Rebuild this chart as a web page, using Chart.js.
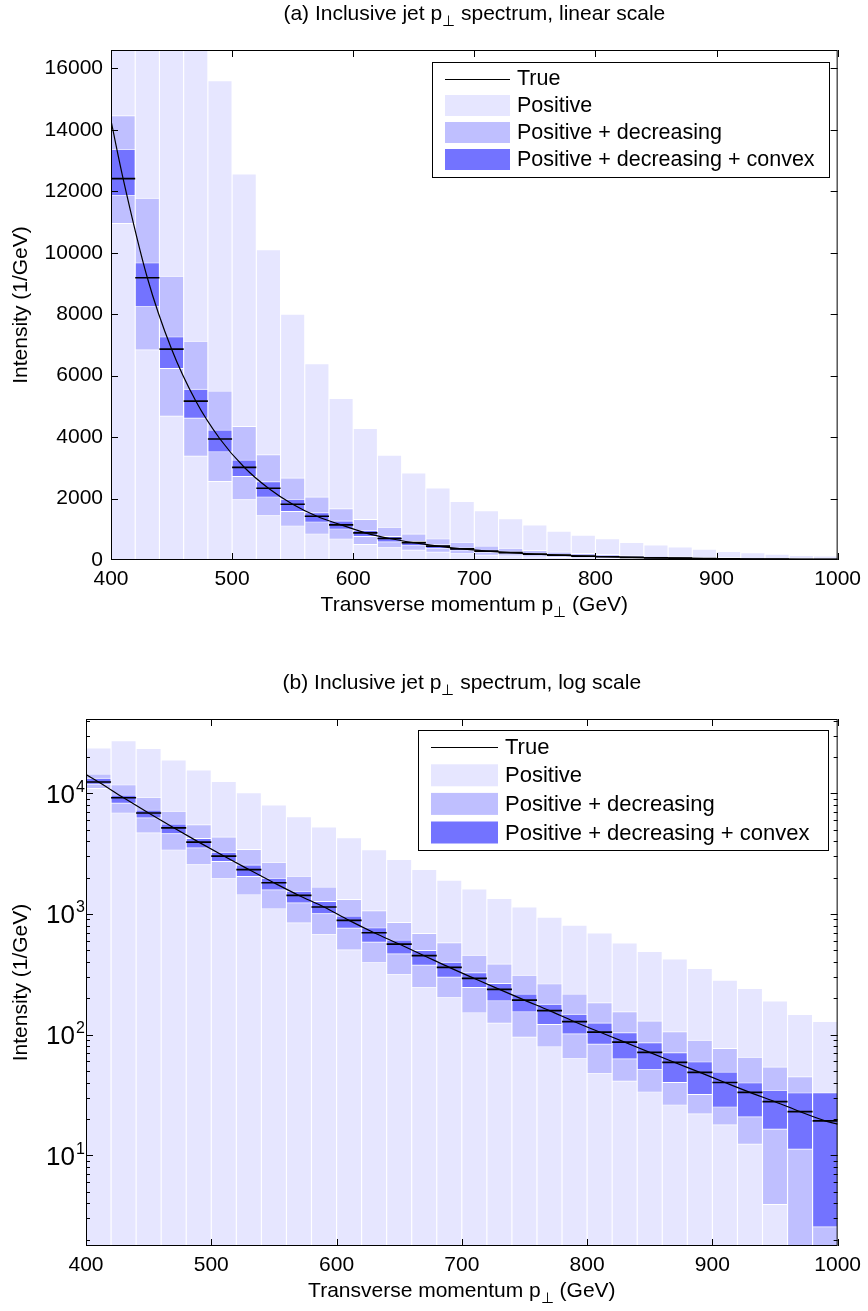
<!DOCTYPE html>
<html>
<head>
<meta charset="utf-8">
<title>Inclusive jet spectrum</title>
<script src="https://cdn.jsdelivr.net/npm/chart.js@4.4.1/dist/chart.umd.min.js"></script>
<style>
  body { margin: 0; background: #fff; }
  .panel { position: absolute; left: 0; width: 868px; }
</style>
</head>
<body>
<div class="panel" style="top:0;height:640px"><canvas id="linChart"></canvas></div>
<div class="panel" style="top:640px;height:671px"><canvas id="logChart"></canvas></div>
<script>
const binCenters = [410, 430, 450, 470, 490, 510, 530, 550, 570, 590, 610, 630, 650, 670, 690,
                    710, 730, 750, 770, 790, 810, 830, 850, 870, 890, 910, 930, 950, 970, 990];

const positiveLo = [0, 0, 0, 0, 0, 0, 0, 0, 0, 0, 0, 0, 0, 0, 0,
                    0, 0, 0, 0, 0, 0, 0, 0, 0, 0, 0, 0, 0, 0, 0];
const positiveHi = [23800, 27300, 23500, 18900, 15600, 12570, 10100, 8000, 6390, 5260, 4280, 3413, 2836, 2344, 1910,
                    1609, 1346, 1142, 942, 809, 695, 574, 490, 423, 354, 283, 241, 190, 147, 128.6];
const decreasingLo = [10950, 6833, 4677, 3375, 2552, 1955, 1435, 1099, 839, 676, 502, 394, 315, 246, 202,
                      151, 124, 95, 79, 63, 47.6, 41, 33.3, 26, 21.9, 17.8, 12.3, 3.9, 0, 0];
const decreasingHi = [14465, 11777, 9240, 7126, 5499, 4351, 3430, 2671, 2053, 1674, 1321, 1065, 851, 690, 578,
                      456, 386, 311, 264, 217, 184, 155, 130, 106, 90, 77, 65, 54, 44.8, 33];
const convexLo = [11863, 8243, 6227, 4611, 3516, 2714, 2042, 1576, 1229, 1002, 760, 582, 465, 375, 298,
                  245, 190, 154, 121, 101, 83, 62.7, 51.4, 40, 31.8, 25, 20.7, 16.4, 11.2, 2.54];
const convexHi = [13360, 9674, 7267, 5563, 4231, 3255, 2552, 1977, 1544, 1273, 961, 769, 608, 499, 399,
                  326, 266, 217, 179, 148, 125, 104, 85.7, 71, 59.6, 49, 39.9, 34.6, 33, 33];
const trueBin = [12416, 9187, 6865, 5174, 3938, 3018, 2335, 1815, 1424, 1142, 885, 699, 563, 451, 361,
                 292, 237, 193, 158, 128, 105, 86.7, 71.2, 58.8, 48.6, 40.1, 33.2, 27.8, 23, 19.3];
// true curve at the two ends of the range
const curveEndX = [400, 1000];
const curveEndY = [14300, 18.1];

const xTicks = [400, 500, 600, 700, 800, 900, 1000];
const linTicks = [0, 2000, 4000, 6000, 8000, 10000, 12000, 14000, 16000];
const logTicks = [10, 100, 1000, 10000];
const logMinorSteps = [2, 3, 4, 5, 6, 7, 8, 9];

const FONT = '"Liberation Sans", Arial, Helvetica, sans-serif';
Chart.defaults.font.family = FONT;
Chart.defaults.color = '#000';

const colPositive = 'rgb(230,230,255)';
const colDecreasing = 'rgb(191,191,255)';
const colConvex = 'rgb(115,115,255)';

function bandSet(label, lo, hi, color, order, floor) {
  return {
    type: 'bar', label: label, order: order,
    data: binCenters.map((x, i) => ({ x: x, y: [Math.max(lo[i], floor), hi[i]] })),
    backgroundColor: color, borderColor: '#fff', borderWidth: 0.9, borderSkipped: false,
    barPercentage: 1, categoryPercentage: 1, grouped: false
  };
}

function halfBin(chart) {
  const s = chart.scales.x;
  return (s.getPixelForValue(binCenters[1]) - s.getPixelForValue(binCenters[0])) / 2;
}

function drawParts(ctx, parts, cx, base, size) {
  const subSize = Math.round(size * 0.72);
  const widths = parts.map(p => {
    ctx.font = (p.sub ? subSize : size) + 'px ' + FONT;
    return ctx.measureText(p.t).width;
  });
  let x = cx - widths.reduce((a, b) => a + b, 0) / 2;
  ctx.textAlign = 'left';
  ctx.textBaseline = 'alphabetic';
  parts.forEach((p, i) => {
    ctx.font = (p.sub ? subSize : size) + 'px ' + FONT;
    ctx.fillText(p.t, x, base + (p.sub ? size * 0.3 : 0));
    x += widths[i];
  });
}

const decor = {
  id: 'decor',
  afterDraw(chart, args, o) {
    const ctx = chart.ctx, a = chart.chartArea, x = chart.scales.x, y = chart.scales.y;
    ctx.save();
    ctx.strokeStyle = '#000';
    ctx.fillStyle = '#000';
    ctx.lineWidth = 1;

    // inner tick marks on all four sides
    ctx.beginPath();
    xTicks.forEach(v => {
      const px = Math.round(x.getPixelForValue(v)) + 0.5;
      ctx.moveTo(px, a.bottom); ctx.lineTo(px, a.bottom - 7);
      ctx.moveTo(px, a.top); ctx.lineTo(px, a.top + 7);
    });
    const yTick = (v, len) => {
      const py = Math.round(y.getPixelForValue(v)) + 0.5;
      if (py < a.top || py > a.bottom) return;
      ctx.moveTo(a.left, py); ctx.lineTo(a.left + len, py);
      ctx.moveTo(a.right, py); ctx.lineTo(a.right - len, py);
    };
    if (o.log) {
      logTicks.forEach(v => yTick(v, 7));
      [1].concat(logTicks).forEach(d => logMinorSteps.forEach(m => yTick(d * m, 4)));
    } else {
      linTicks.forEach(v => yTick(v, 7));
    }
    ctx.stroke();

    ctx.strokeRect(a.left + 0.5, a.top + 0.5, a.right - a.left - 1, a.bottom - a.top - 1);

    // log tick labels 10^k
    if (o.log) {
      logTicks.forEach(v => {
        const py = y.getPixelForValue(v);
        ctx.textBaseline = 'alphabetic';
        ctx.font = '26px ' + FONT;
        ctx.textAlign = 'right';
        ctx.fillText('10', a.left - 11, py + 9.5);
        ctx.font = '16px ' + FONT;
        ctx.textAlign = 'left';
        ctx.fillText(String(Math.round(Math.log10(v))), a.left - 10, py - 1.5);
      });
    }

    const cx = (a.left + a.right) / 2;
    drawParts(ctx, o.title, cx, a.top - 30, 21);
    drawParts(ctx, [{ t: 'Transverse momentum p' }, { t: '\u22A5', sub: true }, { t: ' (GeV)' }], cx, a.bottom + 51, 21);

    ctx.save();
    ctx.translate(21, (a.top + a.bottom) / 2);
    ctx.rotate(-Math.PI / 2);
    ctx.font = '21px ' + FONT;
    ctx.textAlign = 'center';
    ctx.textBaseline = 'middle';
    ctx.fillText('Intensity (1/GeV)', 0, 0);
    ctx.restore();

    // legend
    const L = o.legend;
    ctx.fillStyle = '#fff';
    ctx.fillRect(L.box[0], L.box[1], L.box[2] - L.box[0], L.box[3] - L.box[1]);
    ctx.strokeRect(L.box[0] + 0.5, L.box[1] + 0.5, L.box[2] - L.box[0], L.box[3] - L.box[1]);
    const ds = chart.data.datasets;
    const items = [ds[0], ds[4], ds[3], ds[2]];
    ctx.font = L.font + 'px ' + FONT;
    ctx.textAlign = 'left';
    ctx.textBaseline = 'middle';
    items.forEach((d, i) => {
      const ry = L.row0 + i * L.step;
      if (d.type === 'line') {
        ctx.beginPath();
        ctx.moveTo(L.sw[0], Math.round(ry) + 0.5);
        ctx.lineTo(L.sw[1], Math.round(ry) + 0.5);
        ctx.stroke();
      } else {
        ctx.fillStyle = d.backgroundColor;
        ctx.fillRect(L.sw[0], ry - L.swH / 2, L.sw[1] - L.sw[0], L.swH);
      }
      ctx.fillStyle = '#000';
      ctx.fillText(d.label, L.textX, ry + 1);
    });
    ctx.restore();
  }
};

function makeChart(id, cfg) {
  const floor = cfg.log ? 1 : 0;
  const curve = [{ x: curveEndX[0], y: curveEndY[0] }]
    .concat(binCenters.map((x, i) => ({ x: x, y: trueBin[i] })))
    .concat([{ x: curveEndX[1], y: curveEndY[1] }]);
  const yScale = cfg.log
    ? { type: 'logarithmic', min: cfg.yMin, max: cfg.yMax,
        grid: { display: false, drawTicks: false }, border: { display: false },
        ticks: { display: false },
        afterFit: s => { s.width = cfg.area.left; } }
    : { type: 'linear', min: cfg.yMin, max: cfg.yMax,
        grid: { display: false, drawTicks: false }, border: { display: false },
        ticks: { font: { size: 21 }, padding: 8, callback: v => String(v) },
        afterBuildTicks: s => { s.ticks = linTicks.map(v => ({ value: v })); },
        afterFit: s => { s.width = cfg.area.left; } };

  return new Chart(document.getElementById(id), {
    type: 'bar',
    data: {
      datasets: [
        { type: 'line', label: 'True', order: 0, data: curve,
          borderColor: '#000', borderWidth: 1.2, pointRadius: 0,
          cubicInterpolationMode: 'monotone', fill: false },
        { type: 'line', label: 'True (bin)', order: 1, showLine: false,
          data: binCenters.map((x, i) => ({ x: x, y: trueBin[i] })),
          pointStyle: 'line', pointRadius: c => halfBin(c.chart),
          pointBorderColor: '#000', pointBorderWidth: 1.7 },
        bandSet('Positive + decreasing + convex', convexLo, convexHi, colConvex, 2, floor),
        bandSet('Positive + decreasing', decreasingLo, decreasingHi, colDecreasing, 3, floor),
        bandSet('Positive', positiveLo, positiveHi, colPositive, 4, floor)
      ]
    },
    options: {
      responsive: true,
      maintainAspectRatio: false,
      animation: false,
      events: [],
      layout: { padding: { left: 0, right: cfg.padRight, top: cfg.area.top, bottom: 0 } },
      plugins: { legend: { display: false }, tooltip: { enabled: false }, decor: cfg },
      scales: {
        x: { type: 'linear', min: 400, max: 1000, offset: false,
             grid: { display: false, drawTicks: false }, border: { display: false },
             ticks: { font: { size: 21 }, padding: 7, maxRotation: 0, autoSkip: false, callback: v => String(v) },
             afterBuildTicks: s => { s.ticks = xTicks.map(v => ({ value: v })); },
             afterFit: s => { s.height = cfg.xHeight; } },
        y: yScale
      }
    },
    plugins: [decor]
  });
}

makeChart('linChart', {
  log: false, yMin: 0, yMax: 16600,
  area: { left: 111, top: 50 }, padRight: 28, xHeight: 80,
  title: [{ t: '(a) Inclusive jet p' }, { t: '\u22A5', sub: true }, { t: ' spectrum, linear scale' }],
  legend: { box: [432, 62, 829, 177], row0: 78.5, step: 27, sw: [445, 510], swH: 21, textX: 517, font: 21.5 }
});

makeChart('logChart', {
  log: true, yMin: 1.77, yMax: 41300,
  area: { left: 86, top: 79 }, padRight: 29, xHeight: 65,
  title: [{ t: '(b) Inclusive jet p' }, { t: '\u22A5', sub: true }, { t: ' spectrum, log scale' }],
  legend: { box: [418, 90, 828, 210], row0: 106.7, step: 28.6, sw: [431, 498], swH: 22, textX: 505, font: 22 }
});
</script>
</body>
</html>
